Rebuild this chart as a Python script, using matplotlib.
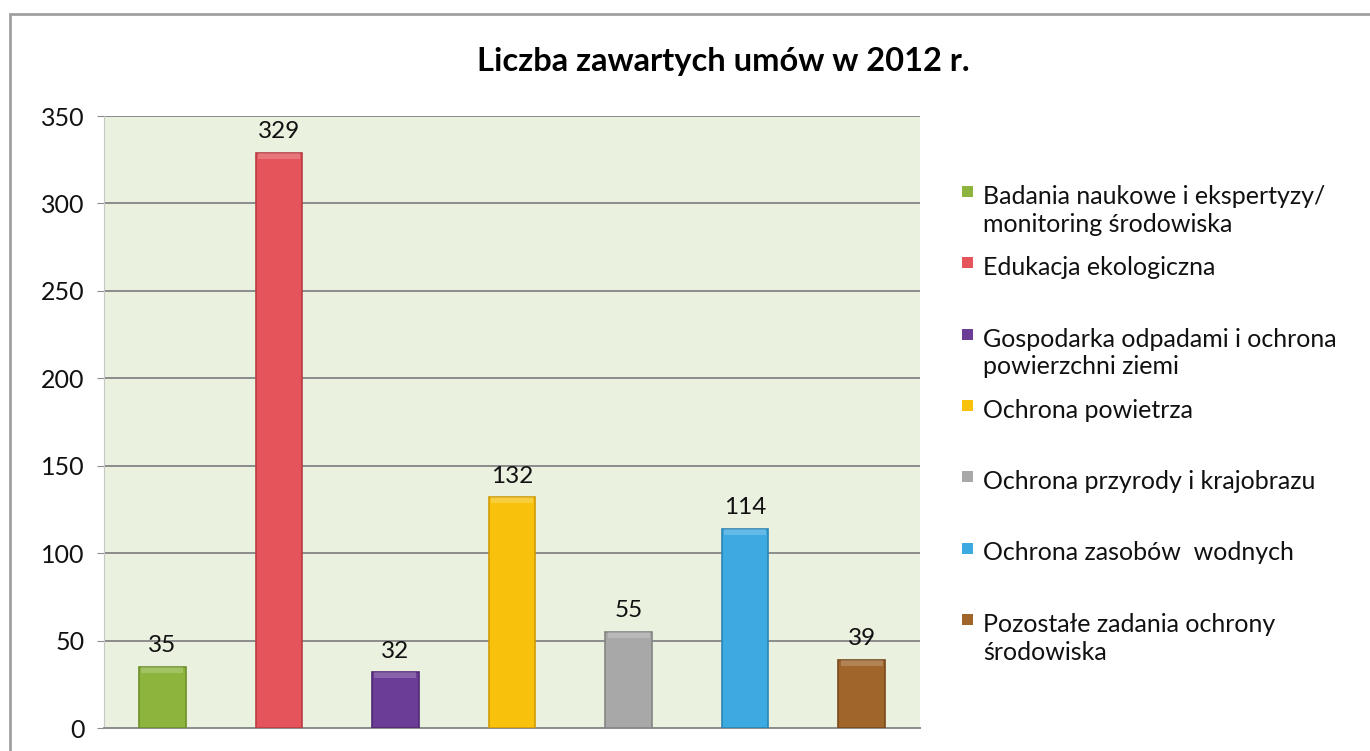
import numpy as np
import matplotlib.pyplot as plt
from matplotlib.patches import Rectangle

plt.rcParams['font.family'] = ['Lato', 'DejaVu Sans']

#%% data
categories = ['Badania naukowe i ekspertyzy/\nmonitoring środowiska',
              'Edukacja ekologiczna',
              'Gospodarka odpadami i ochrona\npowierzchni ziemi',
              'Ochrona powietrza',
              'Ochrona przyrody i krajobrazu',
              'Ochrona zasobów  wodnych',
              'Pozostałe zadania ochrony\nśrodowiska']
values = [35, 329, 32, 132, 55, 114, 39]
colors = ['#8DB43C', '#E4545A', '#6B3D97', '#F8C20C', '#A8A8A8', '#3DA9E1', '#A0652B']
edges = ['#6E8F2A', '#B83E44', '#4F2A75', '#D09C05', '#858585', '#2A86B5', '#7A4A1C']
yticks = [0, 50, 100, 150, 200, 250, 300, 350]

#%% figure
fig = plt.figure(figsize=(13.7, 7.51), dpi=100)
fig.patches.append(Rectangle((10/1370, -0.02), 1.1, 1 - 14/751 + 0.02,
                             transform=fig.transFigure, fill=False,
                             edgecolor='#A0A0A0', lw=2))

ax = fig.add_axes([104/1370, 1 - 728/751, (920 - 104)/1370, (728 - 116)/751])
ax.set_facecolor('#EAF1DE')
x = np.arange(len(values))
ax.bar(x, values, width=0.4, color=colors, edgecolor=edges, linewidth=1.2, zorder=3)
for xi, v, c in zip(x, values, colors):
    # light bevel on top of each bar
    ax.bar(xi, 3.5, bottom=v - 3.5, width=0.36, color='white', alpha=0.2, zorder=4, linewidth=0)
    ax.text(xi, v + 6, str(v), ha='center', va='bottom', fontsize=17.5, color='#111111')

ax.set_xlim(-0.5, len(values) - 0.5)
ax.set_ylim(0, 350)
ax.set_yticks(yticks)
ax.set_xticks([])
ax.grid(axis='y', color='#8C8C8C', lw=1.4, zorder=1)
ax.tick_params(axis='y', labelsize=18, length=5, color='#8C8C8C', pad=9, labelcolor='#111111')
for s in ['top', 'right']:
    ax.spines[s].set_visible(False)
ax.spines['left'].set_color('#C8C8C8')
ax.spines['bottom'].set_color('#8C8C8C')
ax.spines['bottom'].set_linewidth(1.4)

fig.text(723/1370, 1 - 62/751, 'Liczba zawartych umów w 2012 r.', ha='center', va='center',
         fontsize=23.5, fontweight='bold')

# legend drawn by hand
top = 188
step = 71.3
for i, (lab, c) in enumerate(zip(categories, colors)):
    yy = top + i * step
    fig.patches.append(Rectangle((962/1370, 1 - (yy + 9)/751), 11/1370, 11/751,
                                 transform=fig.transFigure, facecolor=c, edgecolor='none'))
    fig.text(983/1370, 1 - (yy - 3)/751, lab, ha='left', va='top', fontsize=18,
             linespacing=1.25, color='#111111')

fig.savefig('out.png', dpi=100, facecolor='white')
